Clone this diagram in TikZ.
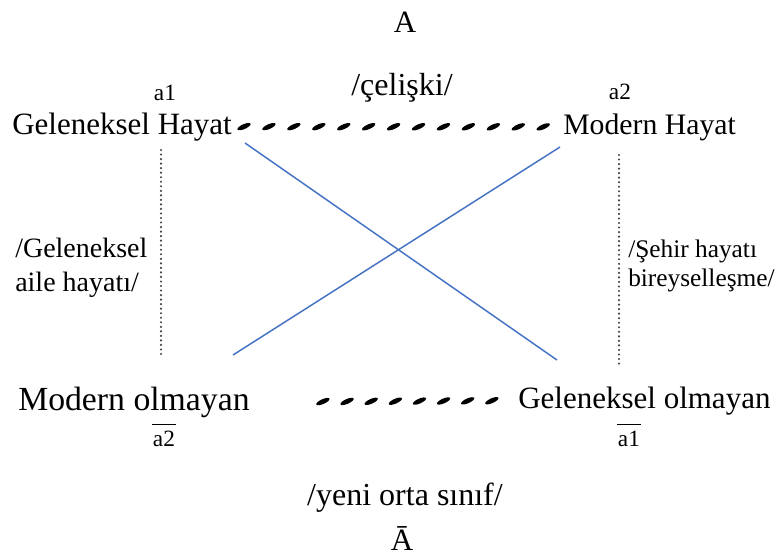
\documentclass[tikz,border=0pt]{standalone}
\usepackage{fontspec}
\setmainfont{Liberation Serif}
\usetikzlibrary{calc}
\definecolor{xblue}{HTML}{4472C4}
\definecolor{dotgray}{HTML}{444444}
\newcommand\fsz[1]{\fontsize{#1}{#1}\selectfont}
\tikzset{
  lbl/.style={inner sep=0pt, anchor=base},
  cross/.style={draw=xblue, line width=1.1pt},
  dotline/.style={draw=dotgray, line width=1.8pt, line cap=round, dash pattern=on 0pt off 3.4pt},
  blob/.style={fill=black, rotate=24},
  bar/.style={draw, line width=1.1pt}
}
\begin{document}
\begin{tikzpicture}[x=0.75pt,y=-0.75pt]
\useasboundingbox (0,0) rectangle (777,557);
% top labels
\node[lbl, font=\fsz{23.25pt}] (A) at (405,32) {A};
\node[lbl, font=\fsz{24pt}] (cel) at (402,95) {/çelişki/};
\node[lbl, font=\fsz{17.5pt}] (a1) at (165,100) {a1};
\node[lbl, font=\fsz{17.5pt}] (a2) at (620,99) {a2};
\node[lbl, anchor=base west, font=\fsz{23.25pt}] (gh) at (12,134) {Geleneksel Hayat};
\node[lbl, anchor=base west, font=\fsz{22.3pt}] (mh) at (563,134) {Modern Hayat};
% side labels
\node[inner sep=0pt, anchor=west, align=left, font=\fontsize{21pt}{25.5pt}\selectfont] (lt) at (15,268) {/Geleneksel\\aile hayatı/};
\node[inner sep=0pt, anchor=west, align=left, font=\fontsize{19pt}{21.75pt}\selectfont] (rt) at (628,266) {/Şehir hayatı\\bireyselleşme/};
% bottom labels
\node[lbl, anchor=base west, font=\fsz{25.3pt}] (mo) at (18,410) {Modern olmayan};
\node[lbl, anchor=base west, font=\fsz{23.25pt}] (go) at (518,408) {Geleneksel olmayan};
\node[lbl, font=\fsz{17.5pt}] (a2b) at (164,446) {a2};
\node[lbl, font=\fsz{17.5pt}] (a1b) at (629,446) {a1};
\node[lbl, font=\fsz{24pt}] (yeni) at (405,505) {/yeni orta sınıf/};
\node[lbl, font=\fsz{23.25pt}] (Abar) at (402,550) {Ā};
% overline bars
\draw[bar] ([xshift=-0.6pt, yshift=4.5pt]a2b.north west) -- ([xshift=0.6pt, yshift=4.5pt]a2b.north east);
\draw[bar] ([xshift=-0.6pt, yshift=4.5pt]a1b.north west) -- ([xshift=0.6pt, yshift=4.5pt]a1b.north east);
% coordinates
\coordinate (ghs) at (245,143);
\coordinate (goe) at (557,360);
\coordinate (mhs) at (560,147);
\coordinate (moe) at (233,355);
\coordinate (l1) at (161,150);
\coordinate (l2) at (161,358);
\coordinate (r1) at (619,155);
\coordinate (r2) at (619,365);
% dashed connectors (slanted blobs between the nodes)
\foreach \i in {0,...,12}
  \fill[blob, shift={($(gh.east)!{9pt+\i*18.7pt}!(mh.west)$)}] (0,0) ellipse (5.4pt and 1.8pt);
\foreach \i in {0,...,7}
  \fill[blob, shift={($(mo.east)!{54.75pt+\i*18.1pt}!(go.west)$)}] (0,0) ellipse (5.4pt and 1.8pt);
\draw[cross] (ghs) -- (goe);
\draw[cross] (mhs) -- (moe);
\draw[dotline] (l1) -- (l2);
\draw[dotline] (r1) -- (r2);
\end{tikzpicture}
\end{document}
